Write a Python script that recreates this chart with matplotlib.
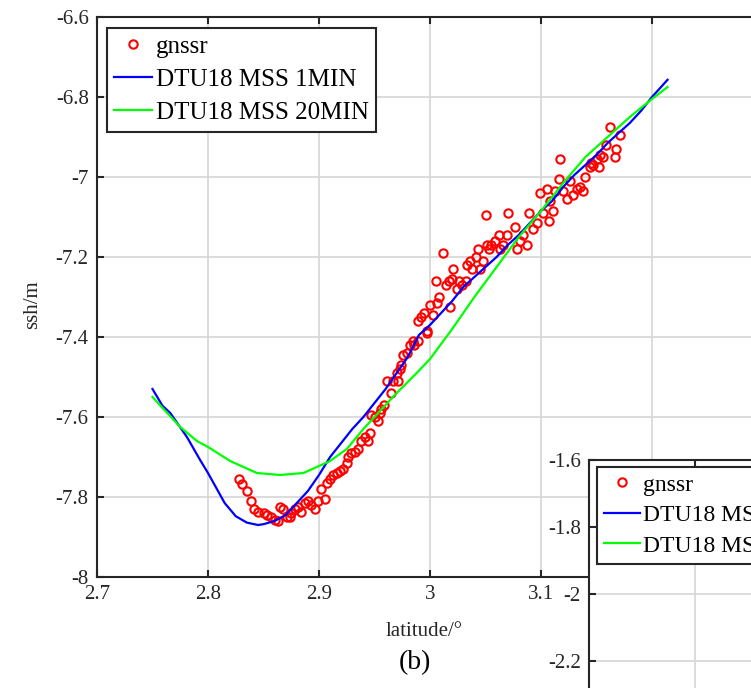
import matplotlib as mpl
import matplotlib.pyplot as plt

mpl.rcParams['font.family'] = 'Liberation Serif'
mpl.rcParams['axes.linewidth'] = 1.5

# gnssr points
gnssr_lat = [
    2.828, 2.831, 2.835, 2.839, 2.841, 2.845, 2.850, 2.853, 2.857, 2.860,
    2.863, 2.865, 2.868, 2.871, 2.874, 2.875, 2.878, 2.881, 2.884, 2.887,
    2.890, 2.893, 2.896, 2.899, 2.902, 2.905, 2.907, 2.910, 2.913, 2.916,
    2.919, 2.922, 2.925,
    2.926, 2.929, 2.932, 2.935, 2.938, 2.941, 2.944, 2.946, 2.947, 2.950,
    2.953, 2.955, 2.956, 2.959, 2.961, 2.965, 2.967, 2.970, 2.971, 2.973,
    2.974, 2.976, 2.979, 2.982, 2.985, 2.986, 2.989, 2.997,
    2.989, 2.992, 2.995, 2.997, 3.000, 3.003, 3.005, 3.006, 3.008, 3.012,
    3.014, 3.017, 3.018, 3.020, 3.021, 3.024, 3.026, 3.029, 3.032, 3.033,
    3.036, 3.038, 3.041, 3.043, 3.045, 3.048, 3.050, 3.051, 3.053, 3.055,
    3.059, 3.062, 3.063, 3.066, 3.069, 3.077, 3.078, 3.081, 3.084, 3.087,
    3.070, 3.089, 3.093, 3.096, 3.099, 3.102, 3.105, 3.107, 3.108, 3.111,
    3.113, 3.116, 3.117, 3.120, 3.123, 3.126, 3.129, 3.132, 3.135, 3.138,
    3.140, 3.144, 3.145, 3.147, 3.150, 3.152, 3.153, 3.156, 3.159, 3.162,
    3.167, 3.168, 3.171,
]
gnssr_ssh = [
    -7.755, -7.768, -7.784, -7.810, -7.830, -7.837, -7.840, -7.845, -7.850, -7.857,
    -7.860, -7.825, -7.830, -7.850, -7.850, -7.840, -7.830, -7.825, -7.837, -7.815,
    -7.810, -7.820, -7.830, -7.810, -7.780, -7.805, -7.765, -7.755, -7.745, -7.740,
    -7.735, -7.730, -7.715,
    -7.700, -7.690, -7.687, -7.680, -7.660, -7.650, -7.660, -7.640, -7.595, -7.600,
    -7.610, -7.590, -7.580, -7.570, -7.510, -7.540, -7.510, -7.490, -7.510, -7.480,
    -7.470, -7.445, -7.440, -7.420, -7.410, -7.420, -7.410, -7.390,
    -7.360, -7.350, -7.340, -7.385, -7.320, -7.345, -7.260, -7.315, -7.300, -7.190,
    -7.270, -7.260, -7.325, -7.255, -7.230, -7.280, -7.260, -7.270, -7.260, -7.220,
    -7.210, -7.230, -7.200, -7.180, -7.230, -7.210, -7.095, -7.170, -7.180, -7.170,
    -7.160, -7.145, -7.180, -7.170, -7.145, -7.125, -7.180, -7.160, -7.145, -7.170,
    -7.090, -7.090, -7.130, -7.115, -7.040, -7.090, -7.030, -7.110, -7.060, -7.085,
    -7.035, -7.005, -6.955, -7.035, -7.055, -7.010, -7.045, -7.030, -7.025, -7.035,
    -7.000, -6.975, -6.965, -6.970, -6.955, -6.975, -6.945, -6.950, -6.920, -6.875,
    -6.950, -6.930, -6.895,
]

# DTU18 MSS 1MIN
mss1_lat = [2.750, 2.759, 2.766, 2.781, 2.793, 2.800, 2.805, 2.815, 2.825, 2.835,
            2.845, 2.850, 2.860, 2.870, 2.880, 2.890, 2.900, 2.910, 2.920, 2.930,
            2.940, 2.950, 2.960, 2.970, 2.980, 2.990, 3.000, 3.010, 3.020, 3.030,
            3.040, 3.050, 3.060, 3.070, 3.080, 3.090, 3.100, 3.110, 3.120, 3.130,
            3.140, 3.150, 3.160, 3.170, 3.180, 3.190, 3.200, 3.214]
mss1_ssh = [-7.530, -7.572, -7.590, -7.650, -7.708, -7.740, -7.765, -7.815, -7.848, -7.864,
            -7.870, -7.868, -7.860, -7.845, -7.815, -7.785, -7.745, -7.700, -7.665, -7.630,
            -7.600, -7.565, -7.530, -7.490, -7.450, -7.395, -7.370, -7.340, -7.310, -7.275,
            -7.250, -7.225, -7.200, -7.170, -7.145, -7.115, -7.085, -7.060, -7.025, -6.995,
            -6.970, -6.945, -6.915, -6.890, -6.865, -6.835, -6.800, -6.757]

# DTU18 MSS 20MIN
mss20_lat = [2.750, 2.760, 2.775, 2.790, 2.800, 2.820, 2.844, 2.865, 2.886, 2.910,
             2.925, 2.940, 2.955, 2.970, 2.988, 3.000, 3.020, 3.040, 3.060, 3.080,
             3.100, 3.120, 3.140, 3.160, 3.180, 3.200, 3.214]
mss20_ssh = [-7.550, -7.580, -7.625, -7.660, -7.675, -7.710, -7.740, -7.745, -7.740, -7.710,
             -7.680, -7.630, -7.585, -7.540, -7.490, -7.455, -7.380, -7.300, -7.225, -7.150,
             -7.085, -7.015, -6.950, -6.900, -6.850, -6.805, -6.775]

W, H = 751, 688
fig = plt.figure(figsize=(W / 100, H / 100), dpi=100, facecolor='white')

tick_color = '#262626'
grid_color = '#d6d6d6'


def style_axes(ax):
    ax.grid(True, color=grid_color, linewidth=1.2)
    ax.set_axisbelow(True)
    ax.tick_params(direction='in', length=5, width=1.5, top=True, right=True,
                   labelsize=15, colors=tick_color, pad=6)
    for s in ax.spines.values():
        s.set_color(tick_color)


# main panel (b)
ax = fig.add_axes([97 / W, (H - 577) / H, 666 / W, 560 / H])
ax.set_xlim(2.7, 3.3)
ax.set_ylim(-8, -6.6)
ax.set_xticks([2.7, 2.8, 2.9, 3.0, 3.1, 3.2], ['2.7', '2.8', '2.9', '3', '3.1', '3.2'])
ax.set_yticks([-8, -7.8, -7.6, -7.4, -7.2, -7, -6.8, -6.6],
              ['-8', '-7.8', '-7.6', '-7.4', '-7.2', '-7', '-6.8', '-6.6'])
style_axes(ax)

ax.plot(gnssr_lat, gnssr_ssh, 'o', mfc='none', mec='#ff0000', ms=6, mew=1.5, label='gnssr')
ax.plot(mss1_lat, mss1_ssh, color='#0000ff', lw=1.6, label='DTU18 MSS 1MIN')
ax.plot(mss20_lat, mss20_ssh, color='#00ff00', lw=1.6, label='DTU18 MSS 20MIN')

leg = ax.legend(loc='upper left', bbox_to_anchor=(107 / W, 1 - 28 / H),
                bbox_transform=fig.transFigure, borderaxespad=0, fontsize=18,
                fancybox=False, framealpha=1, edgecolor=tick_color,
                handlelength=1.5, handletextpad=0.15, borderpad=0.3,
                labelspacing=0.42)
leg.get_frame().set_linewidth(1.5)

fig.text(33 / W, 1 - 305 / H, 'ssh/m', rotation=90, ha='center', va='center',
         fontsize=15, color=tick_color)
fig.text(424 / W, 1 - 632 / H, 'latitude/\u00b0', ha='center', va='center',
         fontsize=15, color=tick_color)
fig.text(415 / W, 1 - 663 / H, '(b)', ha='center', va='center', fontsize=20)

# neighbouring panel, cut off by the figure edge
ax2 = fig.add_axes([589 / W, (H - 460 - 335) / H, 318 / W, 335 / H])
ax2.set_facecolor('white')
ax2.set_xlim(2.7, 3.0)
ax2.set_ylim(-2.6, -1.6)
ax2.set_xticks([2.7, 2.8, 2.9, 3.0])
ax2.set_yticks([-2.2, -2, -1.8, -1.6], ['-2.2', '-2', '-1.8', '-1.6'])
style_axes(ax2)
ax2.tick_params(labelbottom=False)
ax2.plot([], [], 'o', mfc='none', mec='#ff0000', ms=6, mew=1.5, label='gnssr')
ax2.plot([], [], color='#0000ff', lw=1.6, label='DTU18 MSS 1MIN')
ax2.plot([], [], color='#00ff00', lw=1.6, label='DTU18 MSS 20MIN')
leg2 = ax2.legend(loc='upper left', bbox_to_anchor=(597 / W, 1 - 467 / H),
                  bbox_transform=fig.transFigure, borderaxespad=0, fontsize=17,
                  fancybox=False, framealpha=1, edgecolor=tick_color,
                  handlelength=1.5, handletextpad=0.15, borderpad=0.3,
                  labelspacing=0.38)
leg2.get_frame().set_linewidth(1.5)

fig.savefig('out.png', dpi=100)
